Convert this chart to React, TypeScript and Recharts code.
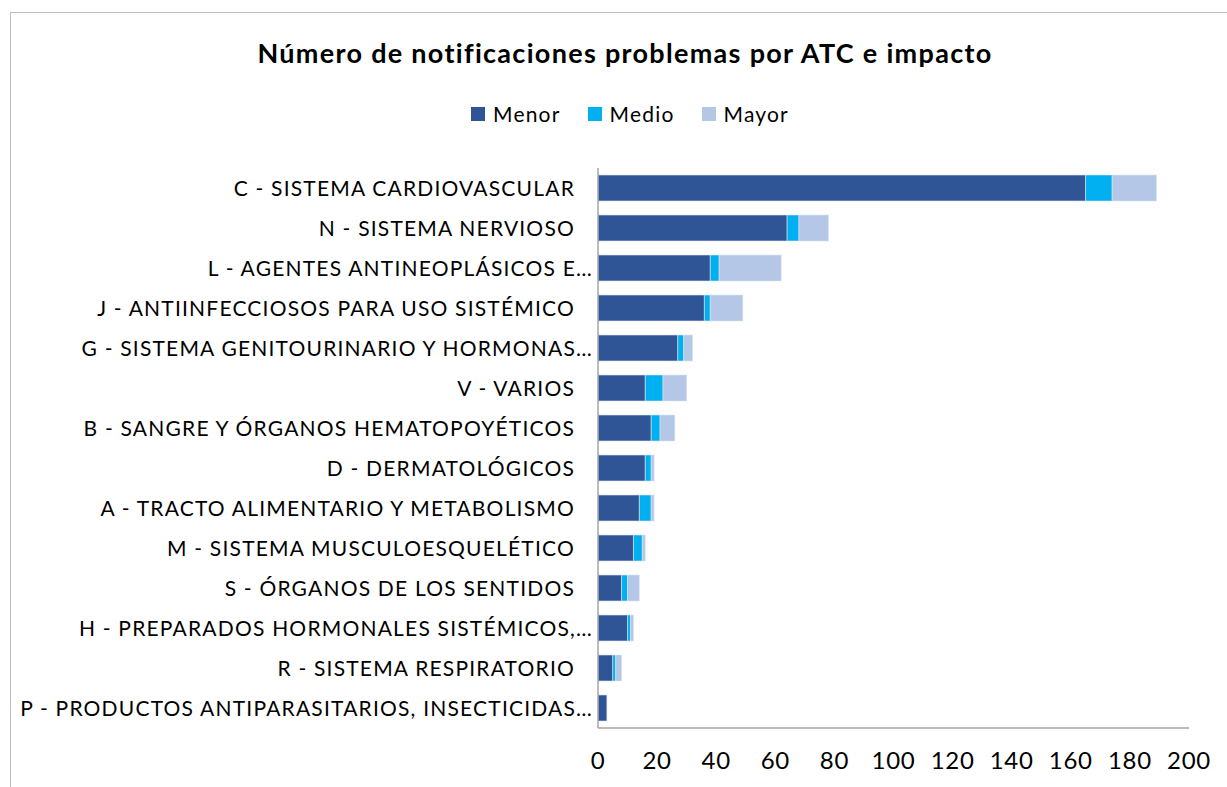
import { Bar, BarChart, XAxis, YAxis } from 'recharts'

const categories = [
  'C - SISTEMA CARDIOVASCULAR',
  'N - SISTEMA NERVIOSO',
  'L - AGENTES ANTINEOPLÁSICOS E…',
  'J - ANTIINFECCIOSOS PARA USO SISTÉMICO',
  'G - SISTEMA GENITOURINARIO Y HORMONAS…',
  'V - VARIOS',
  'B - SANGRE Y ÓRGANOS HEMATOPOYÉTICOS',
  'D - DERMATOLÓGICOS',
  'A - TRACTO ALIMENTARIO Y METABOLISMO',
  'M - SISTEMA MUSCULOESQUELÉTICO',
  'S - ÓRGANOS DE LOS SENTIDOS',
  'H - PREPARADOS HORMONALES SISTÉMICOS,…',
  'R - SISTEMA RESPIRATORIO',
  'P - PRODUCTOS ANTIPARASITARIOS, INSECTICIDAS…',
]
const menor = [165, 64, 38, 36, 27, 16, 18, 16, 14, 12, 8, 10, 5, 3]
const medio = [9, 4, 3, 2, 2, 6, 3, 2, 4, 3, 2, 1, 1, 0]
const mayor = [15, 10, 21, 11, 3, 8, 5, 1, 1, 1, 4, 1, 2, 0]
const xTicks = [0, 20, 40, 60, 80, 100, 120, 140, 160, 180, 200]
const seriesNames = ['Menor', 'Medio', 'Mayor']

const data = categories.map((name, i) => ({
  name,
  Menor: menor[i],
  Medio: medio[i],
  Mayor: mayor[i],
}))

const COLORS: Record<string, string> = {
  Menor: '#2F5597',
  Medio: '#00B0F0',
  Mayor: '#B4C7E7',
}

const FONT = 'Lato, "Open Sans", sans-serif'

function CategoryTick(props: any) {
  const { x, y, payload } = props
  const label: string = payload.value
  // full labels carry trailing padding in the source, truncated ones don't
  const tx = label.endsWith('…') ? x + 3 : x - 15
  return (
    <text
      x={tx}
      y={y}
      dy='0.36em'
      textAnchor='end'
      fill='#000'
      fontSize={21}
      fontFamily={FONT}
      letterSpacing={1.2}
    >
      {label}
    </text>
  )
}

export default function App() {
  return (
    <div style={{ position: 'fixed', left: 0, top: 0, width: 1227, height: 787, background: '#fff', overflow: 'hidden' }}>
      <div
        style={{
          position: 'absolute',
          left: 10,
          top: 12,
          width: 1240,
          height: 800,
          borderLeft: '1px solid #bfbfbf',
          borderTop: '1px solid #bfbfbf',
        }}
      />
      <div
        style={{
          position: 'absolute',
          left: 10,
          width: 1230,
          top: 36,
          textAlign: 'center',
          fontFamily: FONT,
          fontWeight: 'bold',
          fontSize: 27,
          letterSpacing: 1.3,
          color: '#000',
        }}
      >
        Número de notificaciones problemas por ATC e impacto
      </div>
      <div
        style={{
          position: 'absolute',
          left: 0,
          width: 1260,
          top: 101,
          display: 'flex',
          justifyContent: 'center',
          gap: 27,
          fontFamily: FONT,
          fontSize: 21,
          letterSpacing: 1.2,
        }}
      >
        {seriesNames.map((s) => (
          <div key={s} style={{ display: 'flex', alignItems: 'center' }}>
            <span style={{ width: 14, height: 14, background: COLORS[s], display: 'inline-block', marginRight: 8 }} />
            <span>{s}</span>
          </div>
        ))}
      </div>
      <div style={{ position: 'absolute', left: 0, top: 0 }}>
        <BarChart
          width={1227}
          height={787}
          data={data}
          layout='vertical'
          margin={{ top: 168, right: 38, left: 0, bottom: 9 }}
          barCategoryGap={7}
        >
          <XAxis
            type='number'
            domain={[0, 200]}
            ticks={xTicks}
            interval={0}
            tickLine={false}
            axisLine={{ stroke: '#a6a6a6', strokeWidth: 1.5 }}
            tick={{ fill: '#000', fontSize: 24, fontFamily: FONT, letterSpacing: 0.7 }}
            tickMargin={18}
            height={50}
          />
          <YAxis
            type='category'
            dataKey='name'
            width={598}
            tickLine={false}
            axisLine={{ stroke: '#a6a6a6', strokeWidth: 1.5 }}
            tick={<CategoryTick />}
            interval={0}
          />
          {seriesNames.map((s) => (
            <Bar
              key={s}
              dataKey={s}
              stackId='a'
              fill={COLORS[s]}
              stroke='#dde4f0'
              strokeWidth={0.6}
              isAnimationActive={false}
            />
          ))}
        </BarChart>
      </div>
    </div>
  )
}
